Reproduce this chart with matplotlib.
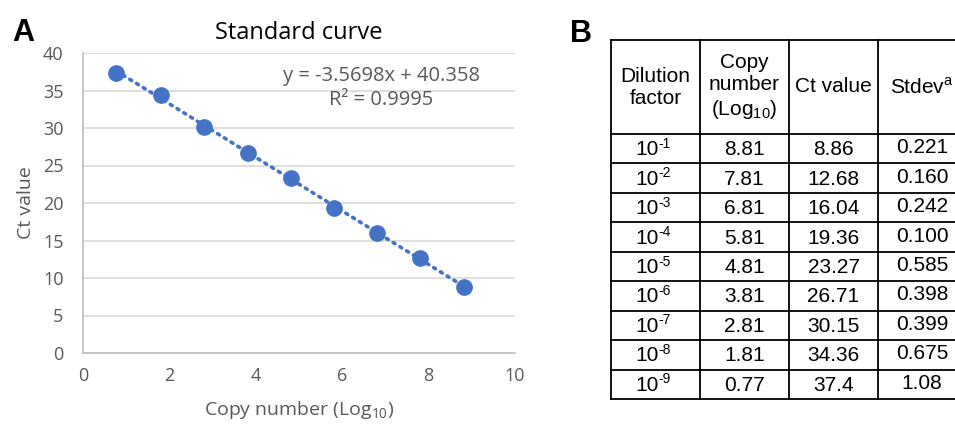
import numpy as np
import matplotlib.pyplot as plt

# Data
dil_exp = ["-1", "-2", "-3", "-4", "-5", "-6", "-7", "-8", "-9"]
copy_log = [8.81, 7.81, 6.81, 5.81, 4.81, 3.81, 2.81, 1.81, 0.77]
ct_value = [8.86, 12.68, 16.04, 19.36, 23.27, 26.71, 30.15, 34.36, 37.4]
ct_text = ["8.86", "12.68", "16.04", "19.36", "23.27", "26.71", "30.15", "34.36", "37.4"]
copy_text = ["8.81", "7.81", "6.81", "5.81", "4.81", "3.81", "2.81", "1.81", "0.77"]
stdev_text = ["0.221", "0.160", "0.242", "0.100", "0.585", "0.398", "0.399", "0.675", "1.08"]

W, H = 955, 429
fig = plt.figure(figsize=(W / 100, H / 100), dpi=100)
chart_font = "Open Sans"
gray = "#595959"
blue = "#4472C4"

# Panel A: standard curve
ax = fig.add_axes([83 / W, 1 - 353 / H, (515 - 83) / W, (353 - 53) / H])
x = np.array(copy_log)
y = np.array(ct_value)
slope, icpt = np.polyfit(x, y, 1)
xs = np.array([x.min(), x.max()])
ax.plot(xs, slope * xs + icpt, linestyle=(0, (0.6, 1.6)), color=blue,
        linewidth=2.6, dash_capstyle="round", zorder=2)
ax.plot(x, y, "o", color=blue, markersize=11, zorder=3)

ax.set_xlim(0, 10)
ax.set_ylim(0, 40)
ax.set_xticks(range(0, 11, 2))
ax.set_yticks(range(0, 41, 5))
ax.grid(axis="y", color="#D9D9D9", linewidth=1.2)
ax.set_axisbelow(True)
for s in ["top", "right"]:
    ax.spines[s].set_visible(False)
for s in ["left", "bottom"]:
    ax.spines[s].set_color("#BFBFBF")
    ax.spines[s].set_linewidth(1.2)
ax.tick_params(axis="y", length=0, pad=14, labelsize=13, labelcolor=gray)
ax.tick_params(axis="x", length=0, pad=10, labelsize=13, labelcolor=gray)
for lab in ax.get_xticklabels() + ax.get_yticklabels():
    lab.set_fontfamily(chart_font)
ax.set_ylabel("Ct value", fontsize=14, color=gray, family=chart_font, labelpad=6)
ax.set_xlabel(r"Copy number (Log$_{\mathregular{10}}$)", fontsize=14, color=gray,
              family=chart_font, labelpad=10)
ax.set_title("Standard curve", fontsize=17, family=chart_font, pad=10)
ax.text(381 / W, 1 - 88 / H, "y = -3.5698x + 40.358\nR² = 0.9995",
        transform=fig.transFigure, ha="center", va="center", fontsize=14.5,
        color=gray, family=chart_font, linespacing=1.25)

fig.text(12 / W, 1 - 33 / H, "A", fontsize=22, fontweight="bold",
         family="Liberation Sans", va="center")
fig.text(570 / W, 1 - 34 / H, "B", fontsize=22, fontweight="bold",
         family="Liberation Sans", va="center")

# Panel B: table
cols = [611, 700, 789, 878, 967]
top, head_bottom, bottom = 40, 134, 399
nrows = len(dil_exp)
row_h = (bottom - head_bottom) / nrows
rows = [head_bottom + i * row_h for i in range(nrows + 1)]

def fx(px):
    return px / W

def fy(py):
    return 1 - py / H

lw = 1.3
for c in cols:
    fig.add_artist(plt.Line2D([fx(c), fx(c)], [fy(top), fy(bottom)],
                              transform=fig.transFigure, color="black", lw=lw))
for r in [top] + rows:
    fig.add_artist(plt.Line2D([fx(cols[0]), fx(cols[-1])], [fy(r), fy(r)],
                              transform=fig.transFigure, color="black", lw=lw))

tfont = dict(family="Liberation Sans", fontsize=15, ha="center", va="center")
cx = [(cols[i] + cols[i + 1]) / 2 for i in range(4)]
cx[3] = 922
hy = (top + head_bottom) / 2
fig.text(fx(cx[0]), fy(hy), "Dilution\nfactor", linespacing=1.2, **tfont)
fig.text(fx(cx[1]), fy(hy), "Copy\nnumber\n(Log$_{\\mathregular{10}}$)", linespacing=1.2, **tfont)
fig.text(fx(cx[2]), fy(hy), "Ct value", **tfont)
fig.text(fx(cx[3]), fy(hy), "Stdev$^{\\mathregular{a}}$", **tfont)

for i in range(nrows):
    ry = (rows[i] + rows[i + 1]) / 2 + 1
    # "10" with raised exponent
    fig.text(fx(cx[0] + 3), fy(ry), "10", family="Liberation Sans", fontsize=15,
             ha="right", va="center")
    fig.text(fx(cx[0] + 3), fy(ry - 6), dil_exp[i], family="Liberation Sans",
             fontsize=10, ha="left", va="center")
    fig.text(fx(cx[1]), fy(ry), copy_text[i], **tfont)
    fig.text(fx(cx[2]), fy(ry), ct_text[i], **tfont)
    fig.text(fx(cx[3]), fy(ry - 2), stdev_text[i], **tfont)

fig.savefig("out.png", dpi=100)
